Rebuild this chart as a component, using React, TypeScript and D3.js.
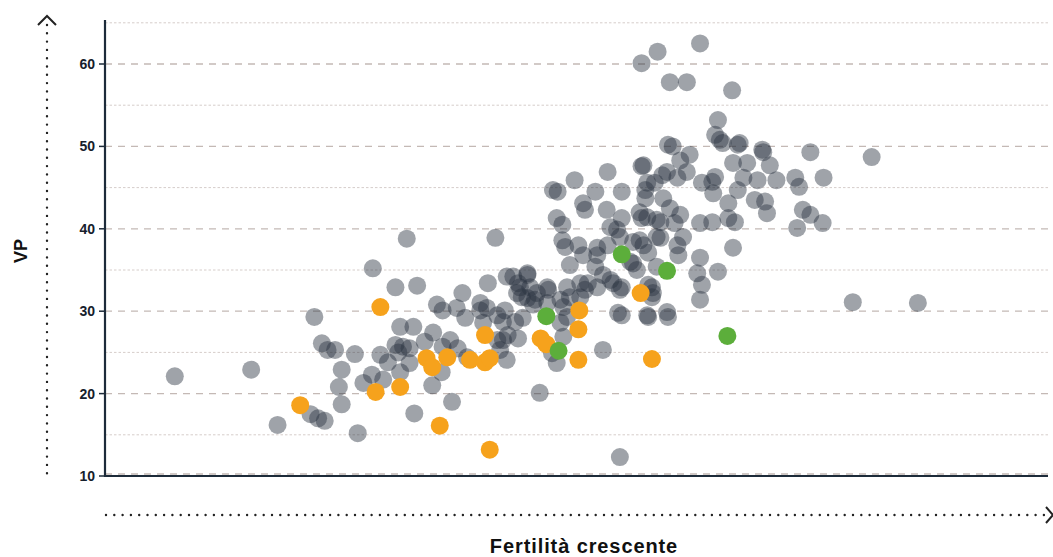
import React from "react";
import * as d3 from "d3";

// Province scatter: fertility index (x) vs VP (y)
const yTicksMajor = [10, 20, 30, 40, 50, 60];
const yGridMinor = [15, 25, 35, 45, 55, 65];

const yLabel = "VP";
const xLabel = "Fertilità crescente";

// [fertility index, VP]
const grayPoints: [number, number][] = [
  [7.4, 22.1], [15.5, 22.9], [18.3, 16.2], [21.8, 17.5], [22.6, 17.0], [23.3, 16.7],
  [26.8, 15.2], [22.2, 29.3], [23.0, 26.1], [23.6, 25.3], [24.4, 25.3], [26.5, 24.8],
  [25.1, 22.9], [24.8, 20.8], [25.1, 18.7], [27.4, 21.3], [28.3, 22.3], [29.5, 21.7],
  [28.4, 35.2], [30.8, 32.9], [29.2, 24.7], [31.3, 28.1], [31.6, 25.7], [30.8, 25.9],
  [30.0, 23.8], [31.1, 25.0], [31.3, 22.6], [32.8, 17.6], [32.0, 38.8], [33.1, 33.1],
  [32.7, 28.1], [32.3, 23.7], [32.3, 25.5], [34.7, 21.0], [35.7, 22.6], [36.8, 19.0],
  [33.9, 26.3], [34.8, 27.4], [35.8, 25.7], [36.6, 26.5], [37.4, 25.5], [38.4, 24.4],
  [35.2, 30.8], [35.8, 30.1], [37.3, 30.4], [37.9, 32.2], [38.2, 29.2], [39.8, 30.1],
  [40.5, 30.4], [40.6, 33.4], [39.8, 31.0], [40.1, 28.6], [41.6, 29.5], [42.2, 28.7],
  [42.4, 30.1], [42.7, 27.1], [42.2, 26.5], [43.8, 26.7], [43.5, 28.7], [44.3, 29.2],
  [42.6, 34.2], [43.3, 34.2], [43.8, 33.4], [44.0, 32.9], [44.8, 34.4], [43.7, 32.2],
  [44.2, 31.7], [44.8, 31.6], [45.8, 32.2], [47.0, 32.6], [45.4, 30.8], [41.6, 26.5],
  [41.9, 25.3], [42.6, 24.1], [41.4, 38.9], [46.1, 20.1], [48.3, 31.4], [49.3, 31.7],
  [49.0, 32.9], [50.4, 33.4], [50.9, 32.6], [52.2, 32.9], [52.8, 34.4], [53.9, 33.4],
  [54.6, 32.6], [49.3, 35.6], [50.7, 36.8], [52.2, 36.8], [56.0, 35.8], [57.6, 33.2],
  [58.1, 32.2], [54.4, 29.8], [57.5, 29.5], [52.8, 25.3], [47.9, 23.7], [47.4, 24.9],
  [48.6, 26.9], [48.3, 28.6], [49.0, 29.3], [54.6, 12.3], [59.7, 50.2], [65.2, 50.8],
  [67.1, 50.2], [57.1, 47.7], [53.3, 46.9], [49.8, 45.9], [47.5, 44.7], [48.0, 44.5],
  [52.0, 44.5], [54.8, 44.5], [57.5, 45.6], [59.6, 46.9], [60.7, 46.2], [61.7, 46.9],
  [63.3, 45.6], [64.4, 45.7], [64.5, 44.3], [67.1, 44.7], [66.6, 48.0], [50.7, 43.1],
  [50.9, 42.3], [53.2, 42.3], [57.3, 43.7], [59.2, 43.7], [57.5, 41.4], [56.9, 41.3],
  [58.9, 40.8], [61.0, 41.7], [63.1, 40.7], [64.4, 40.8], [66.1, 41.3], [66.8, 40.8],
  [66.1, 43.1], [47.9, 41.3], [48.5, 40.5], [54.8, 41.3], [53.6, 40.2], [54.6, 39.0],
  [56.0, 38.4], [58.5, 39.0], [61.3, 39.0], [60.7, 38.0], [60.8, 36.8], [66.6, 37.7],
  [48.5, 38.6], [48.8, 37.8], [50.2, 38.0], [52.2, 37.7], [53.3, 38.0], [57.1, 38.0],
  [57.6, 37.1], [52.0, 35.4], [53.6, 33.8], [54.8, 32.9], [56.4, 35.0], [55.7, 36.0],
  [58.5, 35.4], [58.0, 32.9], [58.0, 31.7], [62.8, 34.6], [63.3, 33.2], [65.0, 34.8],
  [63.1, 31.4], [51.2, 33.4], [50.4, 31.7], [48.6, 30.5], [46.9, 31.0], [45.6, 31.4],
  [45.1, 32.9], [44.8, 34.6], [46.9, 32.9], [59.6, 29.9], [63.1, 62.5], [58.6, 61.5],
  [56.9, 60.1], [59.9, 57.8], [61.7, 57.8], [66.5, 56.8], [65.0, 53.2], [64.7, 51.4],
  [65.5, 50.4], [67.3, 50.4], [69.7, 49.6], [69.8, 49.3], [74.8, 49.3], [81.3, 48.7],
  [60.2, 50.0], [62.0, 49.0], [61.0, 48.3], [56.9, 47.6], [59.1, 46.5], [58.3, 45.6],
  [68.1, 48.0], [67.7, 46.2], [69.2, 45.9], [70.5, 47.7], [71.2, 45.9], [73.2, 46.2],
  [73.6, 45.1], [76.2, 46.2], [64.7, 46.3], [68.9, 43.5], [70.0, 43.3], [70.2, 41.9],
  [74.0, 42.3], [74.8, 41.7], [76.1, 40.7], [73.4, 40.1], [57.3, 44.7], [59.9, 42.5],
  [56.7, 42.0], [58.5, 41.1], [60.4, 40.7], [54.3, 39.9], [56.7, 38.6], [58.9, 38.9],
  [63.1, 36.5], [79.3, 31.1], [86.2, 31.0], [57.6, 29.3], [59.7, 29.3], [54.8, 29.5],
];

const orangePoints: [number, number][] = [
  [20.7, 18.6], [29.2, 30.5], [28.7, 20.2], [31.3, 20.8], [34.1, 24.3], [34.7, 23.2],
  [36.3, 24.4], [38.7, 24.1], [40.3, 23.8], [40.8, 24.3], [40.3, 27.1], [35.5, 16.1],
  [40.8, 13.2], [46.2, 26.7], [46.8, 26.0], [50.3, 30.1], [50.2, 27.8], [50.2, 24.1],
  [56.8, 32.2], [58.0, 24.2],
];

const greenPoints: [number, number][] = [
  [46.8, 29.4], [48.1, 25.2], [54.8, 36.9], [59.6, 34.9], [66.0, 27.0],
];

const W = 1053;
const H = 557;
const plotLeft = 105;
const plotRight = 1048;
const plotTop = 22.8;
const plotBottom = 476;

const AXIS = "#1d2b3a";
const FONT = "'Liberation Sans', Arial, sans-serif";

export default function App() {
  const x = d3.scaleLinear().domain([0, 100]).range([plotLeft, plotRight]);
  const y = d3.scaleLinear().domain([10, 65]).range([plotBottom, plotTop]);
  const r = 9;

  const gridValues = [...yTicksMajor, ...yGridMinor].sort((a, b) => a - b);

  return (
    <svg
      width={W}
      height={H}
      style={{ position: "absolute", left: 0, top: 0, background: "#fff" }}
      fontFamily={FONT}
    >
      {/* horizontal grid: dashed at tens, dotted at fives */}
      {gridValues.map((v) => {
        const major = v % 10 === 0;
        return (
          <line
            key={`g${v}`}
            x1={plotLeft}
            x2={plotRight}
            y1={y(v) - (v === 10 ? 2 : 0)}
            y2={y(v) - (v === 10 ? 2 : 0)}
            stroke={major ? "#c4b9b5" : "#d6cdca"}
            strokeWidth={major ? 1.3 : 1}
            strokeDasharray={major ? "7,6" : "2.5,2"}
          />
        );
      })}

      {/* points */}
      <g>
        {grayPoints.map(([px, py], i) => (
          <circle key={`p${i}`} cx={x(px)} cy={y(py)} r={r} fill="#2b3440" fillOpacity={0.45} />
        ))}
      </g>
      <g>
        {orangePoints.map(([px, py], i) => (
          <circle key={`o${i}`} cx={x(px)} cy={y(py)} r={r} fill="#f6a21c" />
        ))}
      </g>
      <g>
        {greenPoints.map(([px, py], i) => (
          <circle key={`v${i}`} cx={x(px)} cy={y(py)} r={r} fill="#5cae3b" />
        ))}
      </g>

      {/* axes */}
      <line x1={plotLeft} x2={plotLeft} y1={20} y2={plotBottom + 1} stroke={AXIS} strokeWidth={2.2} />
      <line x1={plotLeft - 1} x2={plotRight} y1={plotBottom} y2={plotBottom} stroke={AXIS} strokeWidth={2.2} />

      {yTicksMajor.map((v) => (
        <g key={`t${v}`}>
          <line x1={plotLeft - 6} x2={plotLeft} y1={y(v)} y2={y(v)} stroke={AXIS} strokeWidth={1.5} />
          <text
            x={plotLeft - 10}
            y={y(v)}
            textAnchor="end"
            dominantBaseline="central"
            fontSize={14}
            fontWeight="bold"
            fill="#16202c"
          >
            {v}
          </text>
        </g>
      ))}

      {/* dotted direction arrows */}
      <line
        x1={47}
        x2={47}
        y1={25}
        y2={475}
        stroke="#222"
        strokeWidth={2.4}
        strokeLinecap="round"
        strokeDasharray="0,8.3"
      />
      <polyline points="38,25 47,16 56,25" fill="none" stroke="#222" strokeWidth={2} />
      <line
        x1={106}
        x2={1044}
        y1={515}
        y2={515}
        stroke="#222"
        strokeWidth={2.4}
        strokeLinecap="round"
        strokeDasharray="0,8.3"
      />
      <polyline points="1046,507 1053,515 1046,523" fill="none" stroke="#222" strokeWidth={2} />

      {/* axis titles */}
      <text
        transform={`translate(21,251) rotate(-90)`}
        textAnchor="middle"
        dominantBaseline="central"
        fontSize={18}
        fontWeight="bold"
        fill="#111"
      >
        {yLabel}
      </text>
      <text
        x={584}
        y={553}
        textAnchor="middle"
        fontSize={20}
        fontWeight="bold"
        letterSpacing={0.9}
        fill="#111"
      >
        {xLabel}
      </text>
    </svg>
  );
}
